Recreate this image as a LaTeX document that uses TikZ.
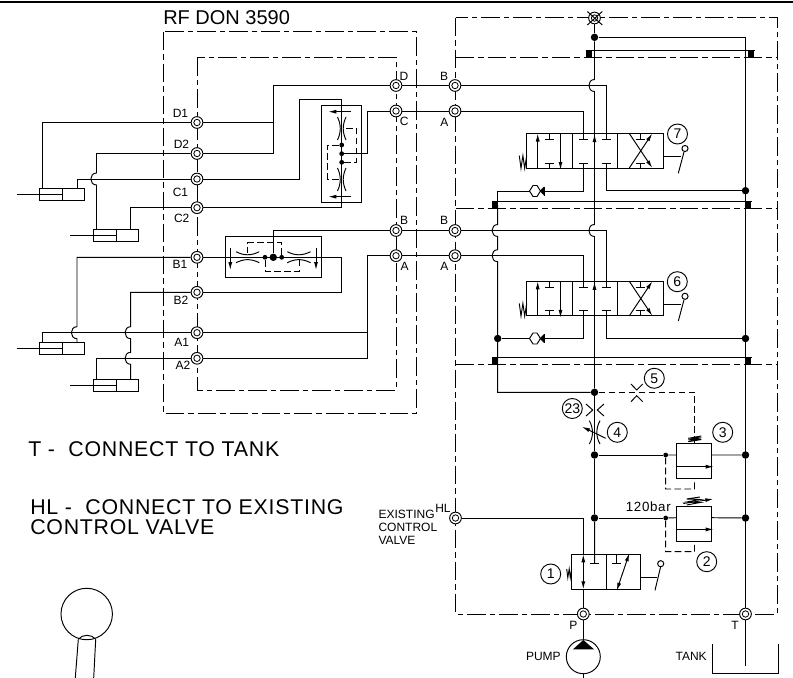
\documentclass[tikz,border=0pt]{standalone}
\usepackage{fontspec}
\setmainfont{Liberation Sans}
\usetikzlibrary{arrows.meta}

\newcommand{\hop}[2]{-- (#1,#2-6) .. controls (#1-7.5,#2-6) and (#1-7.5,#2+6) .. (#1,#2+6)}

\tikzset{
    wire/.style={line width=0.72pt},
    pilot/.style={line width=0.72pt,dash pattern=on 5pt off 2.5pt},
    border/.style={line width=0.72pt,dash pattern=on 14pt off 3pt on 4pt off 3pt},
    flow/.style={line width=0.72pt,-{Latex[length=6pt,width=3pt]}},
    port/.style={shape=circle,draw=black,fill=white,line width=0.7pt,inner sep=0pt,minimum size=8.8pt,
        path picture={
            \draw[line width=0.6pt] (path picture bounding box.center) circle (2.4pt);
            \fill (path picture bounding box.center) circle (0.9pt);
        }},
    junction/.style={shape=circle,fill=black,inner sep=0pt,minimum size=5.6pt},
    tap/.style={shape=circle,fill=black,inner sep=0pt,minimum size=3.6pt},
    block/.style={shape=rectangle,fill=black,inner sep=0pt,minimum size=4.4pt},
    callout/.style={shape=circle,draw=black,line width=0.7pt,inner sep=0pt,minimum size=15pt,font=\fontsize{10.5}{10.5}\selectfont},
    tag/.style={inner sep=0pt,font=\fontsize{9}{9}\selectfont},
    note/.style={inner sep=0pt,anchor=west,font=\fontsize{16}{16}\selectfont\addfontfeature{LetterSpace=3.5}},
    dirvalve/.pic={
        \draw[wire] (0,0) rectangle (136.5,34.5);
        \draw[wire] (45.8,0) -- (45.8,34.5) (91,0) -- (91,34.5);
        \draw[flow] (11.2,34.5) -- (11.2,0);
        \draw[flow] (34,0) -- (34,36.5);
        \draw[flow] (68,16) -- (68,0.5);
        \foreach \tx in {22.8,57,79.5,113.5} {
            \draw[wire] (\tx-4.5,6) -- (\tx+4.5,6) (\tx,0) -- (\tx,6);
            \draw[wire] (\tx-4.5,29.5) -- (\tx+4.5,29.5) (\tx,29.5) -- (\tx,34.5);
        }
        \draw[flow] (102.8,34.5) -- (125.8,0);
        \draw[flow] (102.8,0) -- (125.8,34.5);
        \draw[wire] (136.5,23) -- (154.5,23);
        \draw[wire] (151.8,39.8) -- (157.5,18.5);
        \draw[wire] (158.5,15) circle (2.3pt);
        \draw[wire] (-7.2,22.2) -- (-5.5,34.8) -- (-3.6,22.2) -- (-1.8,34.8) -- (0.2,22.2);
        \coordinate (-a) at (57,0);
        \coordinate (-b) at (79.5,0);
        \coordinate (-p) at (57,34.5);
        \coordinate (-t) at (79.5,34.5);
    },
    cylinder/.pic={
        \draw[wire] (0,0) rectangle (45.6,11.8);
        \draw[wire] (23.4,0) -- (23.4,11.8);
        \draw[wire] (-22.6,6) -- (23.4,6);
        \coordinate (-l) at (3.5,0);
        \coordinate (-r) at (37.7,0);
    },
    checkvalve/.pic={
        \draw[wire] (-5.5,0) -- (-2,-5.5) -- (2,-5.5) -- (5.5,0) -- (2,5.5) -- (-2,5.5) -- cycle;
        \fill (4.5,0) -- (9,-4.5) -- (9,4.5) -- cycle;
        \fill (8.8,-4.5) rectangle (10.2,4.5);
        \coordinate (-l) at (-5.5,0);
        \coordinate (-r) at (10.2,0);
    },
    relief/.pic={
        \draw[wire] (0,0) rectangle (34.3,35);
        \draw[flow] (0,23.4) -- (37,23.4);
        \coordinate (-in) at (0,11.7);
        \coordinate (-out) at (34.3,11.7);
        \coordinate (-drain) at (17.8,35);
        \coordinate (-top) at (17.8,0);
    },
}

\begin{document}
\begin{tikzpicture}[x=0.75pt,y=-0.75pt]
    \useasboundingbox (0,0) rectangle (793,678);
    \draw[line width=1.6pt] (0,2) -- (793,2);

    % dash-dot housings
    \draw[border] (163,31.5) rectangle (416,413);
    \draw[border] (197,57) rectangle (396,390);
    \draw[border] (455.5,17.5) rectangle (777,614);
    \draw[border] (455.5,57) -- (777,57);
    \draw[border] (455.5,208.3) -- (777,208.3);
    \draw[border] (455.5,364.3) -- (777,364.3);

    % ports
    \node[port] (d1) at (197,122.5) {};
    \node[port] (d2) at (197,153.5) {};
    \node[port] (c1) at (197,179) {};
    \node[port] (c2) at (197,207.7) {};
    \node[port] (b1) at (197,257.3) {};
    \node[port] (b2) at (197,292.3) {};
    \node[port] (a1) at (197,332.7) {};
    \node[port] (a2) at (197,358.3) {};
    \node[port] (dr) at (396,85.5) {};
    \node[port] (cr) at (396,111) {};
    \node[port] (br) at (396,230.5) {};
    \node[port] (ar) at (396,255.7) {};
    \node[port] (bup) at (455,85.5) {};
    \node[port] (aup) at (455,111) {};
    \node[port] (blo) at (455,230.5) {};
    \node[port] (alo) at (455,255.7) {};
    \node[port] (hl) at (455.5,518) {};
    \node[port] (pp) at (583.3,614) {};
    \node[port] (tt) at (745.5,614) {};
    \node[port] (xp) at (594.5,18) {};
    \coordinate (xa) at (587.3,11.5);
    \coordinate (xb) at (602.3,25);
    \coordinate (xc) at (587.3,25);
    \coordinate (xd) at (602.3,11.5);
    \draw[wire] (xa) -- (xb);
    \draw[wire] (xc) -- (xd);

    % labels
    \node[inner sep=0pt,anchor=west,font=\fontsize{15}{15}\selectfont] (title) at (163,17.7) {RF DON 3590};
    \node[tag] (ld1) at (180.5,113) {D1};
    \node[tag] (ld2) at (181.5,144.5) {D2};
    \node[tag] (lc1) at (180.5,192.5) {C1};
    \node[tag] (lc2) at (181.7,218.5) {C2};
    \node[tag] (lb1) at (180,264) {B1};
    \node[tag] (lb2) at (181,300) {B2};
    \node[tag] (la1) at (181.7,342.7) {A1};
    \node[tag] (la2) at (183,365.7) {A2};
    \node[tag] (ldr) at (404,76) {D};
    \node[tag] (lcr) at (404.3,121.7) {C};
    \node[tag] (lbr) at (404,220) {B};
    \node[tag] (lar) at (404.7,266.7) {A};
    \node[tag] (lbup) at (444,76) {B};
    \node[tag] (laup) at (444.3,122.3) {A};
    \node[tag] (lblo) at (444,220.7) {B};
    \node[tag] (lalo) at (444.3,266.7) {A};
    \node[tag] (lhl) at (443,508) {HL};
    \node[tag,anchor=north west,align=left,font=\fontsize{9}{10}\selectfont] (lcv) at (378.3,509.5) {EXISTING\\CONTROL\\VALVE};
    \node[tag,font=\fontsize{10}{10}\selectfont\addfontfeature{LetterSpace=5},anchor=east] (lbar) at (671,506.7) {120bar};
    \node[tag] (lp) at (573.3,625) {P};
    \node[tag] (lt) at (735,625) {T};
    \node[tag,anchor=east] (lpump) at (561,656) {PUMP};
    \node[tag,anchor=east] (ltank) at (707,656) {TANK};
    \node[note] (ntank) at (28,449.3) {T -~ CONNECT TO TANK};
    \node[note] (nhl) at (30,507.3) {HL -~ CONNECT TO EXISTING};
    \node[note] (nhl2) at (30,527.3) {CONTROL VALVE};

    % cylinders
    \pic (cylone) at (39.3,188.3) {cylinder};
    \pic (cyltwo) at (93,229.3) {cylinder};
    \pic (cylthree) at (39.3,342.7) {cylinder};
    \pic (cylfour) at (93,379.3) {cylinder};

    \draw[wire] (d1) -| (cylone-l);
    \draw[wire] (c1) -| (cylone-r);
    \draw[wire] (d2) -- (cyltwo-l |- d2) \hop{96.5}{179} -- (cyltwo-l);
    \draw[wire] (c2) -| (cyltwo-r);
    \draw[wire] (a1) -| (cylthree-l);
    \draw[wire] (b1) -- (cylthree-r |- b1) \hop{77}{332.7} -- (cylthree-r);
    \draw[wire] (a2) -| (cylfour-l);
    \draw[wire] (b2) -- (cylfour-r |- b2) \hop{130.7}{332.7} \hop{130.7}{358.3} -- (cylfour-r);

    % upper shuttle block
    \coordinate (jd) at (273.3,85.5);
    \coordinate (jc) at (299,99.3);
    \coordinate (st) at (341.7,99.3);
    \coordinate (sb) at (341.7,207.7);
    \coordinate (jm) at (367.3,111);
    \node[tap] (sa1) at (341.7,145) {};
    \node[tap] (sa2) at (341.7,153.7) {};
    \node[tap] (sa3) at (341.7,162.3) {};
    \draw[wire] (321.3,105.3) rectangle (361.7,202.3);
    \draw[wire] (d1) -- (d1 -| jd);
    \draw[wire] (d2) -| (jd) -- (dr);
    \draw[wire] (dr) -- (bup);
    \draw[wire] (c1) -| (jc) -- (st) -- (sb) -- (c2);
    \draw[wire] (sa2) -| (jm) -- (cr);
    \draw[wire] (cr) -- (aup);
    \draw[flow] (350.7,111.7) -- (328.3,111.7);
    \draw[flow] (350.7,196.7) -- (328.3,196.7);
    \foreach \ry in {117,168} {
        \draw[wire] (337.5,\ry) .. controls (341.2,\ry+8) and (341.2,\ry+15) .. (337.5,\ry+23);
        \draw[wire] (346,\ry) .. controls (342.3,\ry+8) and (342.3,\ry+15) .. (346,\ry+23);
    }
    \draw[pilot] (sa1) -- (327.5,145) -- (327.5,179) -- (341.7,179);
    \draw[pilot] (sa3) -- (356.5,162.3) -- (356.5,128.3) -- (343,128.3);

    % lower shuttle block
    \coordinate (je) at (341.7,257.3);
    \coordinate (jf) at (341.7,292.3);
    \coordinate (jg) at (367.3,332.7);
    \coordinate (jh) at (367.3,358.3);
    \node[tap] (sb1) at (265,257.3) {};
    \node[junction] (sb2) at (273.3,257.3) {};
    \node[tap] (sb3) at (281.7,257.3) {};
    \draw[wire] (225,236.7) rectangle (321.7,277.3);
    \draw[wire] (b1) -- (je) -- (jf) -- (b2);
    \draw[wire] (br) -| (sb2);
    \draw[wire] (br) -- (blo);
    \draw[wire] (a1) -- (jg);
    \draw[wire] (a2) -- (jh) -- (jh |- ar) -- (ar);
    \draw[wire] (ar) -- (alo);
    \draw[flow] (230.3,248.3) -- (230.3,270);
    \draw[flow] (316,248.3) -- (316,270);
    \foreach \rx in {236,287.3} {
        \draw[wire] (\rx,251.7) .. controls (\rx+8,255.8) and (\rx+15,255.8) .. (\rx+23.3,251.7);
        \draw[wire] (\rx,262.7) .. controls (\rx+8,258.6) and (\rx+15,258.6) .. (\rx+23.3,262.7);
    }
    \draw[pilot] (sb3) -- (281.7,242.7) -- (247.7,242.7) -- (247.7,256);
    \draw[pilot] (sb1) -- (265,271) -- (299.3,271) -- (299.3,258.5);

    % valves on the right
    \pic (vseven) at (526.5,133.5) {dirvalve};
    \pic (vsix) at (526.5,281.3) {dirvalve};
    \pic (ckseven) at (535,191) {checkvalve};
    \pic (cksix) at (535,338.5) {checkvalve};
    \pic (rvthree) at (676.7,443.3) {relief};
    \pic (rvtwo) at (676.7,506) {relief};

    \node[block] (sq1) at (589,54) {};
    \node[block] (sq2) at (751.3,54) {};
    \node[block] (sq3) at (495,205) {};
    \node[block] (sq4) at (748.3,205) {};
    \node[block] (sq5) at (495,361) {};
    \node[block] (sq6) at (748.3,361) {};
    \node[junction] (jtop) at (594.5,37.3) {};
    \node[junction] (jr7) at (745.5,190.7) {};
    \node[junction] (jr6) at (745.5,338.5) {};
    \node[junction] (jl6) at (497.7,338.5) {};
    \node[junction] (jmid) at (594.5,392.3) {};
    \node[junction] (j3) at (594.5,455) {};
    \node[junction] (j2) at (594.5,518) {};
    \node[junction] (jr3) at (745.5,455) {};
    \node[junction] (jr2) at (745.5,518) {};
    \node[tap] (t3) at (665.7,455) {};
    \node[tap] (t2) at (665.7,518) {};
    \coordinate (lv) at (497.7,205);
    \coordinate (tankend) at (745.5,666);

    \draw[wire] (sq1.north west) -- (sq2.north east);
    \draw[wire] (sq3.north west) -- (sq4.north east);
    \draw[wire] (sq5.north west) -- (sq6.north east);

    \draw[wire] (xp) -- (jtop);
    \draw[wire] (jtop) \hop{594.5}{85.5} \hop{594.5}{230.5} -- (jmid);
    \draw[wire] (jtop) -| (tt);
    \draw[wire] (tt) -- (tankend);
    \draw[wire] (bup) -| (vseven-b);
    \draw[wire] (aup) -| (vseven-a);
    \draw[wire] (blo) -| (vsix-b);
    \draw[wire] (alo) -| (vsix-a);
    \draw[wire] (vseven-t) |- (jr7);
    \draw[wire] (vsix-t) |- (jr6);
    \draw[wire] (vseven-p) |- (ckseven-r);
    \draw[wire] (vsix-p) |- (cksix-r);
    \draw[wire] (ckseven-l) -| (lv);
    \draw[wire] (cksix-l) -- (jl6);
    \draw[wire] (lv) \hop{497.7}{230.5} \hop{497.7}{255.7} -- (lv |- jmid) -- (jmid);

    % throttles on the main line
    \draw[wire] (jmid) -- (j3);
    \draw[wire] (586,404) -- (592.7,410) -- (586,416);
    \draw[wire] (604,404) -- (597.3,410) -- (604,416);
    \draw[wire] (589.3,420.7) .. controls (593.5,428) and (593.5,437) .. (589.3,444);
    \draw[wire] (600,420.7) .. controls (595.8,428) and (595.8,437) .. (600,444);
    \draw[flow] (605.7,438.3) -- (582,426.7);
    \draw[wire] (j3) -- (j2);
    \draw[wire] (631,384) -- (636.7,390) -- (642.7,384);
    \draw[wire] (631,401.7) -- (636.7,395.7) -- (642.7,401.7);
    \draw[pilot] (jmid) -| (rvthree-top);

    % relief valves
    \draw[wire] (j3) -- (t3);
    \draw[wire] (t3) -- (rvthree-in);
    \draw[wire] (rvthree-out) -- (jr3);
    \draw[pilot] (t3) |- (694.5,489) -- (rvthree-drain);
    \draw[wire] (688.3,441.7) -- (701.3,439.5) -- (688.3,440) -- (701.3,437.8) -- (688.3,438.3) -- (701.3,436);
    \draw[wire] (j2) -- (t2);
    \draw[wire] (t2) -- (rvtwo-in);
    \draw[wire] (rvtwo-out) -- (jr2);
    \draw[pilot] (t2) |- (694.5,551.7) -- (rvtwo-drain);
    \draw[wire] (686.7,505) -- (700,502.5) -- (686.7,502) -- (700,499.5) -- (686.7,499) -- (700,497);
    \draw[flow] (683.3,503.5) -- (713.3,499);

    % valve at the pump
    \coordinate (vtl) at (571.7,554.3);
    \coordinate (vbr) at (640,589.3);
    \coordinate (va) at (583.3,554.3);
    \coordinate (vb) at (583.3,589.3);
    \coordinate (vm) at (594.7,554.3);
    \draw[wire] (vtl) rectangle (vbr);
    \draw[wire] (606,554.3) -- (606,589.3);
    \draw[wire] (j2) -- (vm) -- (594.7,563.3);
    \draw[wire] (590.2,563.3) -- (599.2,563.3);
    \draw[wire] (616.7,554.3) -- (616.7,563.3);
    \draw[wire] (612.2,563.3) -- (621.2,563.3);
    \draw[line width=0.72pt,{Latex[length=6pt,width=3pt]}-{Latex[length=6pt,width=3pt]}] (616.7,590.7) -- (629.3,553.3);
    \draw[wire] (640,577.3) -- (657,577.3);
    \draw[wire] (655,590.3) -- (660.7,566.5);
    \draw[wire] (660.7,563.7) circle (2.3pt);
    \draw[wire] (566.7,569) -- (567.8,577.5) -- (569.2,569) -- (570.3,577.5) -- (571.7,569);
    \draw[wire] (hl) -| (va);
    \draw[flow] (583.3,572) -- (va);
    \draw[flow] (583.3,572) -- (vb);
    \draw[wire] (vb) -- (pp);

    % pump and tank
    \node[shape=circle,draw=black,line width=0.72pt,inner sep=0pt,minimum size=25.5pt] (pump) at (583.3,656.7) {};
    \coordinate (pend) at (583.3,678);
    \draw[wire] (pp) -- (pump);
    \draw[wire] (pump) -- (pend);
    \fill (583.3,640) -- (594,649.3) -- (573,649.3) -- cycle;
    \draw[wire] (712.7,644.3) -- (712.7,673.3) -- (778.3,673.3) -- (778.3,644.3);

    % numbers
    \node[callout] (n7) at (677.5,134) {7};
    \node[callout] (n6) at (677.3,281.7) {6};
    \node[callout] (n5) at (654.3,378.3) {5};
    \node[callout] (n23) at (572.3,408.5) {23};
    \node[callout] (n4) at (617.3,432.3) {4};
    \node[callout] (n3) at (722.7,432.3) {3};
    \node[callout] (n2) at (706.7,561.7) {2};
    \node[callout] (n1) at (550.7,574) {1};

    % figure at the bottom
    \draw[wire] (86.7,614) circle (19.3pt);
    \draw[wire] (78.3,639.3) -- (75.3,678);
    \draw[wire] (95.7,639.3) -- (93.7,678);
    \draw[wire] (78.3,639.3) .. controls (82,634) and (92,634) .. (95.7,639.3);
\end{tikzpicture}
\end{document}
